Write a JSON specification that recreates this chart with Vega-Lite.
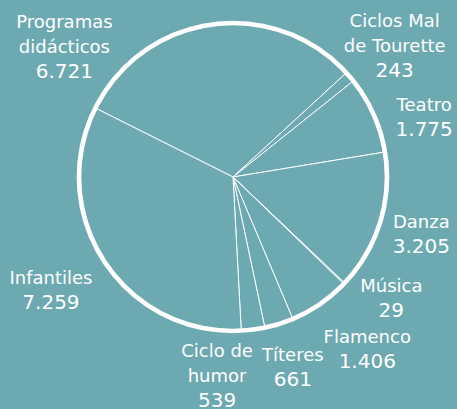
{
  "$schema": "https://vega.github.io/schema/vega-lite/v6.json",
  "width": 448,
  "height": 354,
  "autosize": {"type": "none"},
  "padding": {"left": 9, "top": 0, "right": 0, "bottom": 55},
  "background": "#6da9b1",
  "config": {
    "view": {"stroke": null},
    "locale": {"number": {"decimal": ",", "thousands": ".", "grouping": [3], "currency": ["", " €"]}},
    "text": {"font": "DejaVu Sans", "color": "#ffffff"}
  },
  "data": {
    "values": [
      {"categoria": "Programas didácticos", "nombre": "Programas\ndidácticos", "valor": 6721},
      {"categoria": "Ciclos Mal de Tourette", "nombre": "Ciclos Mal\nde Tourette", "valor": 243},
      {"categoria": "Teatro", "nombre": "Teatro", "valor": 1775},
      {"categoria": "Danza", "nombre": "Danza", "valor": 3205},
      {"categoria": "Música", "nombre": "Música", "valor": 29},
      {"categoria": "Flamenco", "nombre": "Flamenco", "valor": 1406},
      {"categoria": "Títeres", "nombre": "Títeres", "valor": 661},
      {"categoria": "Ciclo de humor", "nombre": "Ciclo de\nhumor", "valor": 539},
      {"categoria": "Infantiles", "nombre": "Infantiles", "valor": 7259}
    ]
  },
  "transform": [{"window": [{"op": "row_number", "as": "orden"}]}],
  "layer": [
    {
      "mark": {"type": "arc", "outerRadius": 153, "fill": "#6da9b1", "stroke": "#ffffff", "strokeWidth": 1},
      "encoding": {
        "theta": {"field": "valor", "type": "quantitative", "stack": true, "scale": {"range": [-1.1065, 5.1767]}},
        "order": {"field": "orden", "type": "quantitative"}
      }
    },
    {
      "transform": [{"aggregate": [{"op": "sum", "field": "valor", "as": "total"}]}],
      "mark": {"type": "arc", "theta": 0, "theta2": 6.2832, "radius": 156.3, "radius2": 151.7, "fill": "#ffffff", "stroke": null},
      "encoding": {}
    },
    {
      "mark": {
        "type": "text", "radius": 200, "fontSize": 18, "lineHeight": 25, "lineBreak": "\n",
        "align": "center", "baseline": "bottom",
        "dy": {"expr": "indexof(datum.nombre, '\\n') >= 0 ? -28 : -3"},
        "thetaOffset": {"expr": "datum.categoria == 'Programas didácticos' ? -0.826 : datum.categoria == 'Ciclos Mal de Tourette' ? 0.079 : datum.categoria == 'Teatro' ? 0.12 : datum.categoria == 'Música' ? -0.106 : datum.categoria == 'Flamenco' ? -0.059 : datum.categoria == 'Ciclo de humor' ? 0.206 : datum.categoria == 'Infantiles' ? 0.019 : 0"},
        "radiusOffset": {"expr": "datum.categoria == 'Programas didácticos' ? 5 : datum.categoria == 'Flamenco' ? 19 : datum.categoria == 'Ciclo de humor' ? 13 : datum.categoria == 'Infantiles' ? 15 : datum.categoria == 'Danza' ? -3 : 0"}
      },
      "encoding": {
        "theta": {"field": "valor", "type": "quantitative", "stack": true},
        "order": {"field": "orden", "type": "quantitative"},
        "text": {"field": "nombre", "type": "nominal"}
      }
    },
    {
      "mark": {
        "type": "text", "radius": 200, "fontSize": 20, "lineHeight": 25,
        "align": "center", "baseline": "line-top",
        "thetaOffset": {"expr": "datum.categoria == 'Programas didácticos' ? -0.826 : datum.categoria == 'Ciclos Mal de Tourette' ? 0.079 : datum.categoria == 'Teatro' ? 0.12 : datum.categoria == 'Música' ? -0.106 : datum.categoria == 'Flamenco' ? -0.059 : datum.categoria == 'Ciclo de humor' ? 0.206 : datum.categoria == 'Infantiles' ? 0.019 : 0"},
        "radiusOffset": {"expr": "datum.categoria == 'Programas didácticos' ? 5 : datum.categoria == 'Flamenco' ? 19 : datum.categoria == 'Ciclo de humor' ? 13 : datum.categoria == 'Infantiles' ? 15 : datum.categoria == 'Danza' ? -3 : 0"}
      },
      "encoding": {
        "theta": {"field": "valor", "type": "quantitative", "stack": true},
        "order": {"field": "orden", "type": "quantitative"},
        "text": {"field": "valor", "type": "quantitative", "format": ",d"}
      }
    }
  ]
}
